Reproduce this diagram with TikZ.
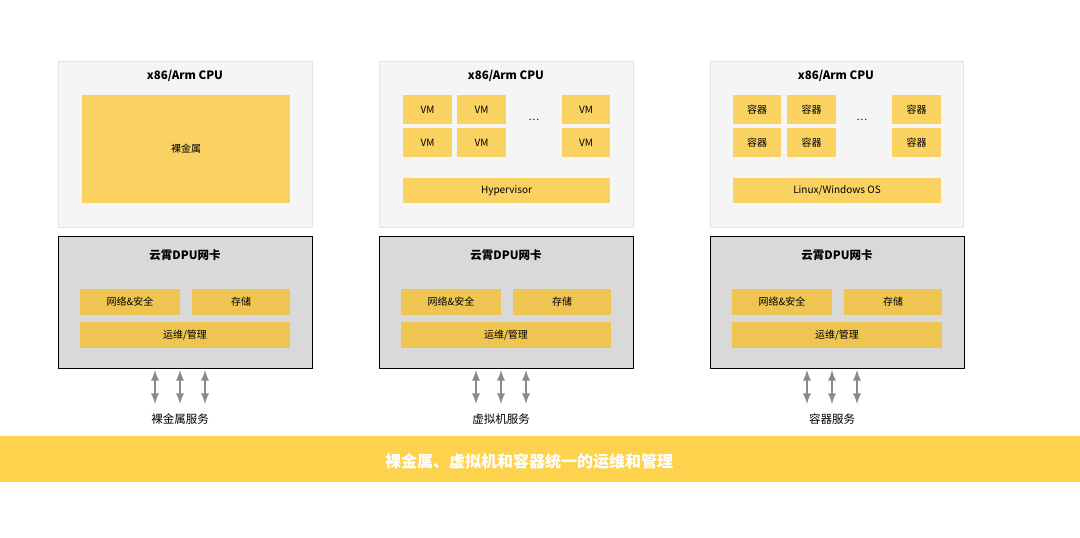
\documentclass[tikz,border=0pt]{standalone}
\usepackage{fontspec}
\setmainfont{Noto Sans CJK SC}
\usetikzlibrary{positioning}
\definecolor{cpugray}{HTML}{F5F5F5}
\definecolor{cpuline}{HTML}{E4E4E4}
\definecolor{dpugray}{HTML}{D9D9D9}
\definecolor{cellyellow}{HTML}{F9D262}
\definecolor{dpuyellow}{HTML}{EEC553}
\definecolor{banneryellow}{HTML}{FDD24D}
\definecolor{arrowgray}{HTML}{8A8A8A}
\begin{document}
\begin{tikzpicture}[x=1pt,y=-1pt,
  cpubox/.style={draw=cpuline,fill=cpugray,inner sep=0pt},
  dpubox/.style={fill=dpugray,inner sep=0pt},
  cell/.style={fill=cellyellow,inner sep=0pt,font=\fontsize{10}{12}\selectfont},
  dcell/.style={fill=dpuyellow,inner sep=0pt,font=\fontsize{10}{12}\selectfont},
  title/.style={font=\fontsize{11.5}{13}\selectfont\bfseries},
  svc/.style={font=\fontsize{11.5}{13}\selectfont},
  bus/.style={<->,>=latex,line width=2.6pt,draw=arrowgray,shorten >=0pt}]
\useasboundingbox (0,0) rectangle (1080,538);

% upper boxes: CPU
\draw[cpubox] (58,61) rectangle (312,227);
\draw[cpubox] (379,61) rectangle (633,227);
\draw[cpubox] (710,61) rectangle (963,227);
\node[title] (t1) at (185,76) {x86/Arm CPU};
\node[title] (t2) at (506,76) {x86/Arm CPU};
\node[title] (t3) at (836,76) {x86/Arm CPU};

% bare metal
\node[cell,minimum width=208pt,minimum height=108pt] (bm) at (186,149) {裸金属};

% virtual machines
\node[cell,minimum width=49pt,minimum height=29pt] (vm1) at (427.5,109.5) {VM};
\node[cell,minimum width=49pt,minimum height=29pt] (vm2) at (481.5,109.5) {VM};
\node[cell,minimum width=49pt,minimum height=29pt] (vm3) at (427.5,142.5) {VM};
\node[cell,minimum width=49pt,minimum height=29pt] (vm4) at (481.5,142.5) {VM};
\node[cell,minimum width=48pt,minimum height=29pt] (vm5) at (586,109.5) {VM};
\node[cell,minimum width=48pt,minimum height=29pt] (vm6) at (586,142.5) {VM};
\node (vmdots) at (534,120) {\dots};
\node[cell,minimum width=207pt,minimum height=25pt] (hyp) at (506.5,190.5) {Hypervisor};

% containers
\node[cell,minimum width=48pt,minimum height=29pt] (ct1) at (757,109.5) {容器};
\node[cell,minimum width=49pt,minimum height=29pt] (ct2) at (811.5,109.5) {容器};
\node[cell,minimum width=48pt,minimum height=29pt] (ct3) at (757,142.5) {容器};
\node[cell,minimum width=49pt,minimum height=29pt] (ct4) at (811.5,142.5) {容器};
\node[cell,minimum width=49pt,minimum height=29pt] (ct5) at (916.5,109.5) {容器};
\node[cell,minimum width=49pt,minimum height=29pt] (ct6) at (916.5,142.5) {容器};
\node (ctdots) at (862,120) {\dots};
\node[cell,minimum width=208pt,minimum height=25pt] (os) at (837,190.5) {Linux/Windows OS};

% DPU cards
\foreach \x/\n in {58/1,379/2,710/3}{
  \draw[dpubox] (\x,236) rectangle ++(254,132);
  \node[title] (d\n) at (\x+127,255) {云霄DPU网卡};
  \node[dcell,minimum width=100pt,minimum height=26pt] (net\n) at (\x+72,302) {网络\&安全};
  \node[dcell,minimum width=98pt,minimum height=26pt] (sto\n) at (\x+183,302) {存储};
  \node[dcell,minimum width=210pt,minimum height=26pt] (ops\n) at (\x+127,335) {运维/管理};
}

% services
\node[svc] (s1) at (180,419) {裸金属服务};
\node[svc] (s2) at (501,419) {虚拟机服务};
\node[svc] (s3) at (832,419) {容器服务};
\foreach \x in {155,180,205}{
  \coordinate (a) at (\x,370); \coordinate (b) at (\x,404);
  \draw[bus] (a) -- (b);}
\foreach \x in {476,501,526}{
  \coordinate (a) at (\x,370); \coordinate (b) at (\x,404);
  \draw[bus] (a) -- (b);}
\foreach \x in {807,832,857}{
  \coordinate (a) at (\x,370); \coordinate (b) at (\x,404);
  \draw[bus] (a) -- (b);}

% banner
\fill[banneryellow] (0,436) rectangle (1080,482);
\node[text=white,font=\fontsize{16}{18}\selectfont\bfseries] (banner) at (529,461) {裸金属、虚拟机和容器统一的运维和管理};
\end{tikzpicture}
\end{document}
